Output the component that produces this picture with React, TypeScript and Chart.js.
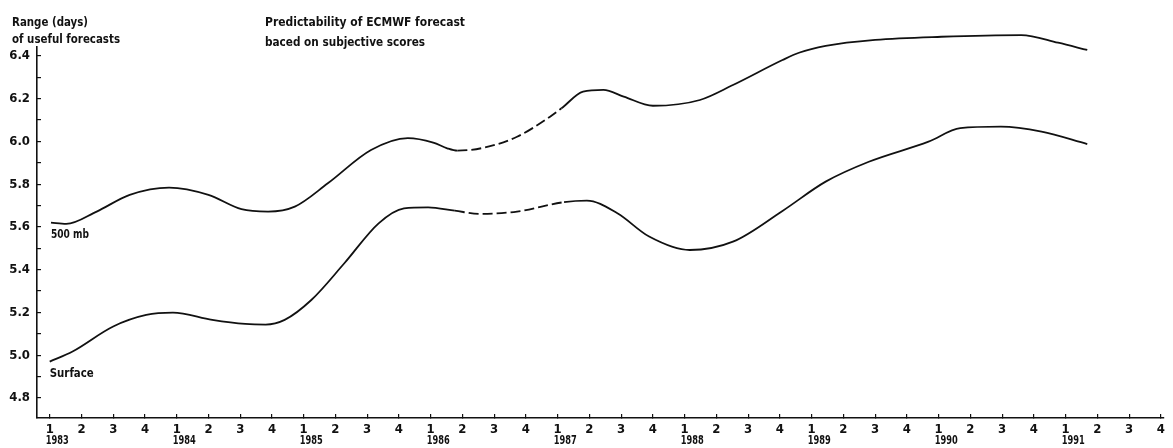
import React, { useEffect, useRef } from "react";
import { Chart, registerables } from "chart.js";

Chart.register(...registerables);

// Time is in decimal years: 1983.0 is the first quarter of 1983.
const upperYears = [
  1983.01, 1983.13, 1983.37, 1983.63, 1983.94, 1984.25, 1984.51, 1984.72,
  1984.93, 1985.19, 1985.53, 1985.82, 1986.02, 1986.13, 1986.21, 1986.42,
  1986.68, 1986.94, 1987.03, 1987.2, 1987.36, 1987.52, 1987.75, 1988.12,
  1988.38, 1988.77, 1988.9, 1989.11, 1989.5, 1990.02, 1990.65, 1990.94,
  1991.17,
];
const upperRange = [
  5.62, 5.614, 5.672, 5.75, 5.784, 5.75, 5.683, 5.672,
  5.695, 5.804, 5.96, 6.016, 5.995, 5.968, 5.957, 5.971,
  6.022, 6.116, 6.155, 6.233, 6.241, 6.21, 6.167, 6.194,
  6.264, 6.381, 6.415, 6.447, 6.475, 6.49, 6.498, 6.462,
  6.428,
];

const surfaceYears = [
  1983.0, 1983.18, 1983.5, 1983.76, 1983.97, 1984.28, 1984.54, 1984.7,
  1984.85, 1985.06, 1985.32, 1985.59, 1985.79, 1985.98, 1986.19, 1986.39,
  1986.68, 1987.05, 1987.23, 1987.47, 1987.72, 1988.04, 1988.38, 1988.77,
  1989.11, 1989.45, 1989.92, 1990.17, 1990.49, 1990.81, 1991.17,
];
const surfaceRange = [
  4.97, 5.017, 5.134, 5.188, 5.199, 5.165, 5.146, 5.143,
  5.165, 5.258, 5.43, 5.617, 5.687, 5.692, 5.676, 5.661,
  5.672, 5.716, 5.723, 5.664, 5.555, 5.492, 5.531, 5.675,
  5.812, 5.905, 5.999, 6.062, 6.069, 6.046, 5.988,
];

// Stretches drawn dashed, [from, to] in decimal years
const upperDashed = [1986.21, 1987.03];
const surfaceDashed = [1986.19, 1987.05];

const seriesNames = ["500 mb", "Surface"];
const yearLabels = ["1983", "1984", "1985", "1986", "1987", "1988", "1989", "1990", "1991"];
const quarterLabels = ["1", "2", "3", "4"];
const rangeTicks = [4.8, 4.9, 5.0, 5.1, 5.2, 5.3, 5.4, 5.5, 5.6, 5.7, 5.8, 5.9, 6.0, 6.1, 6.2, 6.3, 6.4];
const yTitle = ["Range (days)", "of useful forecasts"];
const chartTitle = ["Predictability of ECMWF forecast", "baced on subjective scores"];

const INK = "#111111";
const FACE = "'Liberation Sans Narrow', 'DejaVu Sans Condensed', 'Liberation Sans', sans-serif";

const quarterTicks: number[] = [];
yearLabels.forEach((y) => quarterLabels.forEach((_, q) => quarterTicks.push(Number(y) + q / 4)));

const dashedIn = (range: number[]) => (ctx: any) =>
  ctx.p0.parsed.x >= range[0] - 1e-6 && ctx.p1.parsed.x <= range[1] + 1e-6 ? [10, 4] : undefined;

// Narrow lettering: text is squeezed to the width of the lettering guide
const narrowText = (ctx: CanvasRenderingContext2D, text: string, x: number, y: number, width: number) => {
  const w = ctx.measureText(text).width;
  if (w > width) ctx.fillText(text, x, y, width);
  else ctx.fillText(text, x, y);
};

const seriesLabelWidths = [38, 44];

const annotations = {
  id: "annotations",
  afterDraw(chart: any) {
    const { ctx } = chart;
    ctx.save();
    ctx.fillStyle = INK;
    ctx.textAlign = "left";
    ctx.textBaseline = "alphabetic";

    ctx.font = `bold 13px ${FACE}`;
    narrowText(ctx, yTitle[0], 12, 26, 76);
    narrowText(ctx, yTitle[1], 12, 43, 108);
    narrowText(ctx, chartTitle[0], 265, 26, 200);
    narrowText(ctx, chartTitle[1], 265, 46, 160);

    // Series names under the first point of each curve
    chart.data.datasets.forEach((_: any, i: number) => {
      const first = chart.getDatasetMeta(i).data[0];
      if (first) narrowText(ctx, seriesNames[i], first.x, first.y + 15, seriesLabelWidths[i]);
    });

    // Year under the first-quarter tick of each year
    const xs = chart.scales.x;
    ctx.font = `bold 12px ${FACE}`;
    yearLabels.forEach((y) => {
      narrowText(ctx, y, xs.getPixelForValue(Number(y)) - 4, 444, 23);
    });
    ctx.restore();
  },
};

export default function App() {
  const ref = useRef<HTMLCanvasElement | null>(null);

  useEffect(() => {
    if (!ref.current) return;
    const chart = new Chart(ref.current, {
      type: "line",
      data: {
        datasets: [
          {
            label: seriesNames[0],
            data: upperYears.map((x, i) => ({ x, y: upperRange[i] })),
            segment: { borderDash: dashedIn(upperDashed) },
          },
          {
            label: seriesNames[1],
            data: surfaceYears.map((x, i) => ({ x, y: surfaceRange[i] })),
            segment: { borderDash: dashedIn(surfaceDashed) },
          },
        ] as any,
      },
      options: {
        animation: false,
        responsive: false,
        events: [],
        layout: { padding: { top: 47, right: 3, left: 0, bottom: 0 } },
        plugins: { legend: { display: false }, tooltip: { enabled: false } },
        datasets: { line: { clip: false } as any },
        elements: {
          point: { radius: 0 },
          line: {
            borderColor: INK,
            borderWidth: 1.8,
            cubicInterpolationMode: "monotone",
            fill: false,
          },
        },
        scales: {
          x: {
            type: "linear",
            min: 1982.9,
            max: 1991.775,
            afterBuildTicks: (s: any) => {
              s.ticks = quarterTicks.map((value) => ({ value }));
            },
            afterFit: (s: any) => {
              s.height = 30;
            },
            grid: { drawOnChartArea: false, drawTicks: true, tickLength: -4, color: INK, lineWidth: 1.2 },
            border: { color: INK, width: 1.6 },
            ticks: {
              autoSkip: false,
              maxRotation: 0,
              padding: 8,
              color: INK,
              font: { family: FACE, size: 13, weight: "bold" },
              callback: (v: any) => quarterLabels[Math.round((Number(v) - Math.floor(Number(v) + 1e-6)) * 4) % 4],
            },
          },
          y: {
            type: "linear",
            min: 4.706,
            max: 6.442,
            afterBuildTicks: (s: any) => {
              s.ticks = rangeTicks.map((value) => ({ value }));
            },
            afterFit: (s: any) => {
              s.width = 37;
            },
            grid: { drawOnChartArea: false, drawTicks: true, tickLength: -4, color: INK, lineWidth: 1.2 },
            border: { color: INK, width: 1.6 },
            ticks: {
              autoSkip: false,
              padding: 11,
              color: INK,
              font: { family: FACE, size: 13, weight: "bold" },
              callback: (v: any) => (Math.round(Number(v) * 10) % 2 === 0 ? Number(v).toFixed(1) : ""),
            },
          },
        },
      },
      plugins: [annotations],
    });
    return () => chart.destroy();
  }, []);

  return (
    <div style={{ position: "fixed", left: 0, top: 0, width: 1173, height: 448, background: "#fff" }}>
      <canvas ref={ref} width={1173} height={448} style={{ display: "block" }} />
    </div>
  );
}
